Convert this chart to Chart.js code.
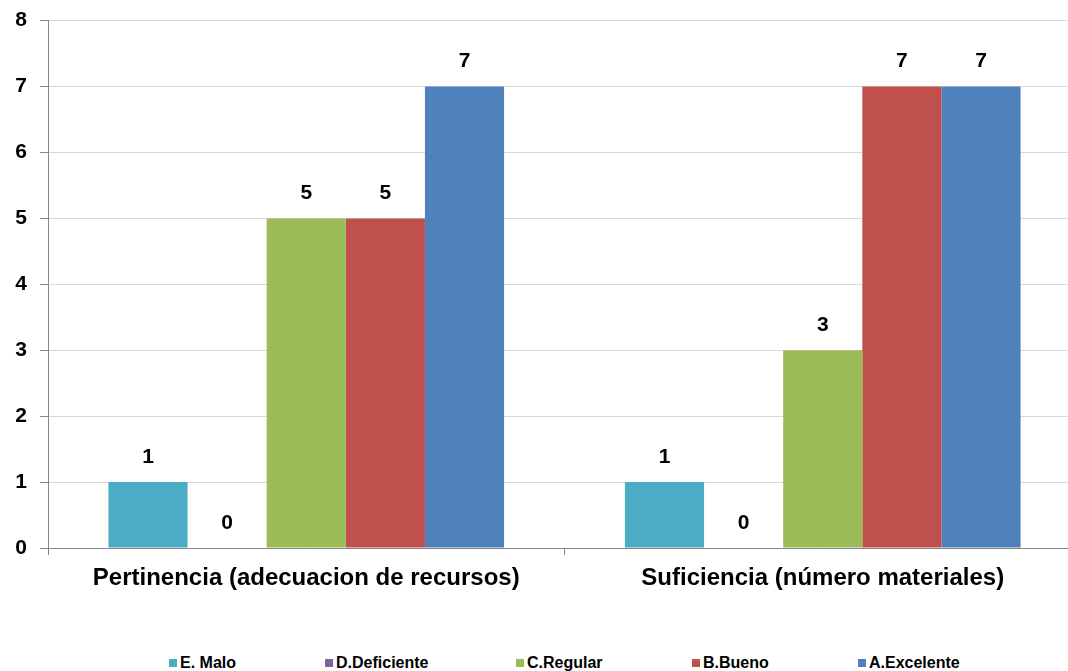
<!DOCTYPE html>
<html>
<head>
<meta charset="utf-8">
<script src="https://cdn.jsdelivr.net/npm/chart.js@4.4.0/dist/chart.umd.min.js"></script>
<style>
    body { margin: 0; background: #ffffff; overflow: hidden; font-family: "Liberation Sans", Arial, sans-serif; }
    #wrap { position: relative; width: 1085px; height: 617px; margin-top: -5px; }
    #legend { position: absolute; top: 654px; left: 0; width: 1068px; height: 18px; }
    .item { position: absolute; top: 0; font: bold 16px "Liberation Sans", Arial, sans-serif; color: #000; white-space: nowrap; line-height: 18px; }
    .box { display: inline-block; width: 8px; height: 8px; margin-right: 3px; vertical-align: 1px; }
</style>
</head>
<body>
<div id="wrap"><canvas id="chart"></canvas></div>
<div id="legend"></div>
<script>
// Data
const categories = ['Pertinencia (adecuacion de recursos)', 'Suficiencia (número materiales)'];
const seriesNames = ['E. Malo', 'D.Deficiente', 'C.Regular', 'B.Bueno', 'A.Excelente'];
const malo = [1, 1];
const deficiente = [0, 0];
const regular = [5, 3];
const bueno = [5, 7];
const excelente = [7, 7];
const yTicks = [0, 1, 2, 3, 4, 5, 6, 7, 8];

const colors = ['#4BACC6', '#8064A2', '#9BBB59', '#C0504D', '#4F81BD'];
const legendLeft = [169, 325, 516, 692, 858];

// Value labels above each bar
const valueLabels = {
    id: 'valueLabels',
    afterDatasetsDraw(chart) {
        const ctx = chart.ctx;
        ctx.save();
        ctx.font = 'bold 21px "Liberation Sans", Arial, sans-serif';
        ctx.fillStyle = '#000';
        ctx.textAlign = 'center';
        ctx.textBaseline = 'middle';
        chart.data.datasets.forEach((ds, i) => {
            chart.getDatasetMeta(i).data.forEach((bar, j) => {
                ctx.fillText(ds.data[j], bar.x, bar.y - 25);
            });
        });
        ctx.restore();
    }
};

const allSeries = [malo, deficiente, regular, bueno, excelente];

new Chart(document.getElementById('chart'), {
    type: 'bar',
    data: {
        labels: categories,
        datasets: allSeries.map((d, i) => ({
            label: seriesNames[i],
            data: d,
            backgroundColor: colors[i],
            borderWidth: 0,
            categoryPercentage: 0.766,
            barPercentage: 1.0
        }))
    },
    options: {
        responsive: true,
        maintainAspectRatio: false,
        animation: false,
        layout: { padding: { top: 15, right: 4, left: 0, bottom: 0 } },
        plugins: {
            legend: { display: false },
            tooltip: { enabled: false }
        },
        scales: {
            x: {
                offset: true,
                grid: {
                    offset: true,
                    drawOnChartArea: false,
                    drawTicks: true,
                    tickLength: 7,
                    color: '#868686'
                },
                border: { color: '#868686', width: 1 },
                ticks: {
                    color: '#000',
                    font: { family: '"Liberation Sans", Arial, sans-serif', size: 24, weight: 'bold' },
                    padding: 9,
                    maxRotation: 0
                },
                afterFit: function(scale) { scale.height = 64; }
            },
            y: {
                min: 0,
                max: 8,
                afterBuildTicks: function(scale) {
                    scale.ticks = yTicks.map(v => ({ value: v }));
                },
                grid: {
                    color: '#d9d9d9',
                    tickLength: 8,
                    tickColor: '#868686'
                },
                border: { color: '#868686', width: 1 },
                ticks: {
                    color: '#000',
                    font: { family: '"Liberation Sans", Arial, sans-serif', size: 21, weight: 'bold' },
                    padding: 13
                },
                afterFit: function(scale) { scale.width = 48; }
            }
        }
    },
    plugins: [valueLabels]
});

// Legend
const legend = document.getElementById('legend');
seriesNames.forEach((name, i) => {
    const item = document.createElement('div');
    item.className = 'item';
    item.style.left = legendLeft[i] + 'px';
    const box = document.createElement('span');
    box.className = 'box';
    box.style.background = colors[i];
    item.appendChild(box);
    item.appendChild(document.createTextNode(name));
    legend.appendChild(item);
});
</script>
</body>
</html>
